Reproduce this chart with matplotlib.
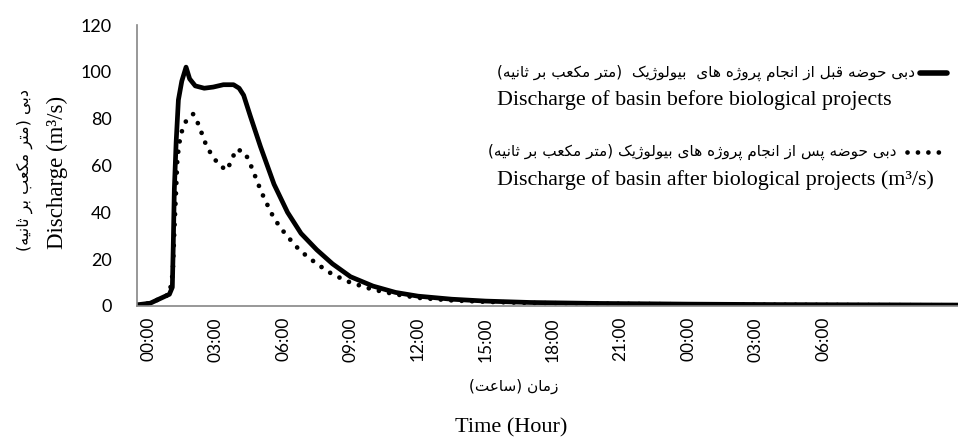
import matplotlib
matplotlib.use("Agg")
import matplotlib.pyplot as plt
from matplotlib.lines import Line2D

# ---------------- data ----------------
hours_before = [-0.49, 0.1, 0.5, 0.95, 1.08, 1.12, 1.17, 1.25, 1.35, 1.5, 1.69, 1.85,
                2.1, 2.5, 2.9, 3.35, 3.8, 4.05, 4.25, 4.55, 5.0, 5.6, 6.2, 6.8, 7.5,
                8.2, 9.0, 10.0, 11.0, 12.0, 13.5, 15.0, 17.0, 20.0, 24.0, 28.0, 32.0, 36.0]
discharge_before = [0.5, 1.2, 3, 5, 8, 25, 50, 70, 88, 96, 102, 97,
                    94, 93, 93.5, 94.5, 94.5, 93, 90, 81, 68, 52, 40, 31, 24,
                    18, 12.5, 8.5, 5.8, 4.2, 2.9, 2.1, 1.5, 1.1, 0.8, 0.6, 0.5, 0.4]

hours_after = [-0.49, 0.1, 0.5, 0.95, 1.1, 1.14, 1.19, 1.24, 1.3, 1.38, 1.48, 1.69,
               2.01, 2.24, 2.61, 2.87, 3.17, 3.52, 3.72, 3.94, 4.31, 4.53, 4.71, 4.9,
               5.1, 5.32, 5.54, 5.82, 6.12, 6.46, 6.76, 7.5, 8.2, 9.0, 10.0, 11.0,
               12.0, 13.5, 15.0, 17.0, 20.0, 24.0, 28.0, 32.0, 36.0]
discharge_after = [0.5, 1.2, 3, 5, 14, 25, 37, 48, 62, 69, 74, 79,
                   82, 77.6, 68, 64, 60, 58, 62.7, 67, 65.5, 61, 56.7, 52,
                   47.4, 42.9, 38.6, 34.3, 30.6, 26.8, 23.6, 18, 13.5, 10, 7, 5,
                   3.5, 2.4, 1.8, 1.3, 1.0, 0.7, 0.5, 0.4, 0.3]

tick_hours = [0, 3, 6, 9, 12, 15, 18, 21, 24, 27, 30]
tick_labels = ["00:00", "03:00", "06:00", "09:00", "12:00", "15:00", "18:00",
               "21:00", "00:00", "03:00", "06:00"]
y_ticks = [0, 20, 40, 60, 80, 100, 120]

legend_fa_before = "دبی حوضه قبل از انجام پروژه های  بیولوژیک  (متر مکعب بر ثانیه)"
legend_en_before = "Discharge of basin before biological projects"
legend_fa_after = "دبی حوضه پس از انجام پروژه های بیولوژیک (متر مکعب بر ثانیه)"
legend_en_after = "Discharge of basin after biological projects (m³/s)"
ylabel_fa = "دبی (متر مکعب بر ثانیه)"
ylabel_en = "Discharge (m³/s)"
xlabel_fa = "زمان (ساعت)"
xlabel_en = "Time (Hour)"

# ---------------- minimal Persian shaping (presentation forms) ----------------
FORMS = {
    'ا': ('\uFE8D', '\uFE8E'),
    'ب': ('\uFE8F', '\uFE90', '\uFE91', '\uFE92'),
    'پ': ('\uFB56', '\uFB57', '\uFB58', '\uFB59'),
    'ت': ('\uFE95', '\uFE96', '\uFE97', '\uFE98'),
    'ث': ('\uFE99', '\uFE9A', '\uFE9B', '\uFE9C'),
    'ج': ('\uFE9D', '\uFE9E', '\uFE9F', '\uFEA0'),
    'ح': ('\uFEA1', '\uFEA2', '\uFEA3', '\uFEA4'),
    'د': ('\uFEA9', '\uFEAA'),
    'ر': ('\uFEAD', '\uFEAE'),
    'ز': ('\uFEAF', '\uFEB0'),
    'ژ': ('\uFB8A', '\uFB8B'),
    'س': ('\uFEB1', '\uFEB2', '\uFEB3', '\uFEB4'),
    'ض': ('\uFEBD', '\uFEBE', '\uFEBF', '\uFEC0'),
    'ع': ('\uFEC9', '\uFECA', '\uFECB', '\uFECC'),
    'ق': ('\uFED5', '\uFED6', '\uFED7', '\uFED8'),
    'ک': ('\uFB8E', '\uFB8F', '\uFB90', '\uFB91'),
    'ل': ('\uFEDD', '\uFEDE', '\uFEDF', '\uFEE0'),
    'م': ('\uFEE1', '\uFEE2', '\uFEE3', '\uFEE4'),
    'ن': ('\uFEE5', '\uFEE6', '\uFEE7', '\uFEE8'),
    'ه': ('\uFEE9', '\uFEEA', '\uFEEB', '\uFEEC'),
    'و': ('\uFEED', '\uFEEE'),
    'ی': ('\uFBFC', '\uFBFD', '\uFBFE', '\uFBFF'),
}


def fa(text):
    out = []
    for i, ch in enumerate(text):
        f = FORMS.get(ch)
        if f is None:
            out.append(ch)
            continue
        prev = text[i - 1] if i > 0 else ''
        nxt = text[i + 1] if i + 1 < len(text) else ''
        jp = prev in FORMS and len(FORMS[prev]) == 4
        jn = len(f) == 4 and nxt in FORMS
        idx = 3 if (jp and jn) else 1 if jp else 2 if jn else 0
        out.append(f[idx])
    vis = ''.join(out)[::-1]
    return vis.translate(str.maketrans({'(': ')', ')': '('}))


# ---------------- figure ----------------
W, H = 958, 444
fig = plt.figure(figsize=(W / 100, H / 100), dpi=100)
ax = fig.add_axes([137 / W, 1 - 306 / H, (W - 137) / W, (306 - 25) / H])

DOTS = (0, (0.01, 2.2))
ax.plot(hours_before, discharge_before, color='black', lw=3.4,
        solid_joinstyle='round', solid_capstyle='round')
ax.plot(hours_after, discharge_after, color='black', lw=3.4,
        linestyle=DOTS, dash_capstyle='round')

ax.set_xlim(-0.49, 36.0)
ax.set_ylim(0, 120)
ax.set_xticks(tick_hours)
ax.set_xticklabels(tick_labels, rotation=90, family='Lato', fontsize=12.5)
ax.set_yticks(y_ticks)
ax.set_yticklabels([str(v) for v in y_ticks], family='Lato', fontsize=13)
ax.tick_params(axis='x', length=0, pad=8)
ax.tick_params(axis='y', length=0, pad=18)
for s in ['top', 'right']:
    ax.spines[s].set_visible(False)
for s in ['left', 'bottom']:
    ax.spines[s].set_color('#868686')
    ax.spines[s].set_linewidth(1.2)

serif = ['Liberation Serif', 'DejaVu Sans']
faf = ['DejaVu Sans']

# axis titles
fig.text(25 / W, 1 - 170 / H, fa(ylabel_fa), rotation=90, ha='center', va='center',
         family=faf, fontsize=11.5)
fig.text(57 / W, 1 - 172 / H, ylabel_en, rotation=90, ha='center', va='center',
         family=serif, fontsize=16.5)
fig.text(514 / W, 1 - 386 / H, fa(xlabel_fa), ha='center', va='center',
         family=faf, fontsize=11)
fig.text(511 / W, 1 - 428 / H, xlabel_en, ha='center', va='center',
         family=serif, fontsize=16)

# legend
fig.text(915 / W, 1 - 73 / H, fa(legend_fa_before), ha='right', va='center',
         family=faf, fontsize=11)
fig.text(497 / W, 1 - 100 / H, legend_en_before, ha='left', va='center',
         family=serif, fontsize=15.8)
fig.text(897 / W, 1 - 152 / H, fa(legend_fa_after), ha='right', va='center',
         family=faf, fontsize=11)
fig.text(497 / W, 1 - 180 / H, legend_en_after, ha='left', va='center',
         family=serif, fontsize=15.8)

fig.add_artist(Line2D([920 / W, 947 / W], [1 - 73 / H, 1 - 73 / H], color='black',
                      lw=4.0, solid_capstyle='round', transform=fig.transFigure))
fig.add_artist(Line2D([907 / W, 943 / W], [1 - 152 / H, 1 - 152 / H], color='black',
                      lw=3.4, linestyle=DOTS, dash_capstyle='round',
                      transform=fig.transFigure))

fig.savefig('out.png', dpi=100)
